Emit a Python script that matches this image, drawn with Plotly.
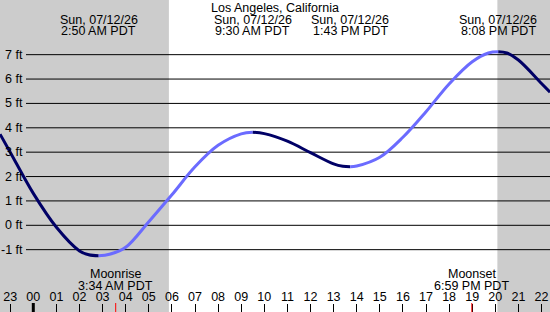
import plotly.graph_objects as go

# ---- data (hours relative to midnight of 07/12/26) ----
tide_hours = [-1.44, -1, 0, 1, 2, 2.4, 2.83, 3.3, 4, 5, 6, 7, 8, 9, 9.5, 10, 11, 12,
              13, 13.4, 13.72, 14, 15, 16, 17, 18, 19, 19.7, 20.13, 20.5, 21, 22, 22.37]
tide_ft = [3.74, 3.0, 1.31, -0.08, -1.05, -1.21, -1.25, -1.19, -0.90, 0.15, 1.25, 2.40, 3.28,
           3.75, 3.82, 3.76, 3.45, 2.98, 2.52, 2.42, 2.40, 2.43, 2.79, 3.61, 4.66,
           5.80, 6.71, 7.07, 7.12, 7.07, 6.78, 5.82, 5.46]
extreme_hours = [2.83, 9.5, 13.72, 20.13]
extreme_dates = ["Sun, 07/12/26"] * 4
extreme_times = ["2:50 AM PDT", "9:30 AM PDT", "1:43 PM PDT", "8:08 PM PDT"]
sunrise_h = 5.87
sunset_h = 20.09
moon_hours = [3.567, 18.983]
moon_events = ["Moonrise", "Moonset"]
moon_times = ["3:34 AM PDT", "6:59 PM PDT"]
y_ticks = [-1, 0, 1, 2, 3, 4, 5, 6, 7]
y_ticktext = ["-1 ft", "0 ft", "1 ft", "2 ft", "3 ft", "4 ft", "5 ft", "6 ft", "7 ft"]
x_ticks = list(range(-1, 23))
x_ticktext = ["%02d" % (h % 24) for h in x_ticks]
title = "Los Angeles, California"

X_RANGE = [-1.4416, 22.368]
Y_RANGE = [-3.557, 9.243]
DARK = "#000066"
LIGHT = "#6b6bff"
FONT = "Liberation Sans, Arial, sans-serif"
FS = 12.5
H = 312.0

fig = go.Figure()

# segments split at extremes
bounds = [tide_hours[0]] + extreme_hours + [tide_hours[-1]]
for a, b in zip(bounds[:-1], bounds[1:]):
    xs = [t for t in tide_hours if a <= t <= b]
    ys = [v for t, v in zip(tide_hours, tide_ft) if a <= t <= b]
    color = LIGHT if ys[-1] > ys[0] else DARK
    fig.add_trace(go.Scatter(x=xs, y=ys, mode="lines",
                             line=dict(color=color, width=3, shape="spline"),
                             hoverinfo="skip", showlegend=False))

shapes = []
# night shading
for x0, x1 in [(X_RANGE[0], sunrise_h), (sunset_h, X_RANGE[1])]:
    shapes.append(dict(type="rect", xref="x", yref="paper", x0=x0, x1=x1, y0=0, y1=1,
                       fillcolor="#cccccc", line=dict(width=0), layer="below"))
# gridlines
for v in y_ticks:
    shapes.append(dict(type="line", xref="paper", yref="y", x0=26 / 550, x1=1, y0=v, y1=v,
                       line=dict(color="black", width=1), layer="below"))
# midnight heavy tick
shapes.append(dict(type="line", xref="x", yref="paper", x0=0, x1=0, y0=0, y1=9 / H,
                   line=dict(color="black", width=3)))
# moon ticks
for m in moon_hours:
    shapes.append(dict(type="line", xref="x", yref="paper", x0=m, x1=m, y0=0, y1=9 / H,
                       line=dict(color="red", width=1)))

def txt(text, x, y_px, xref="x", xanchor="center"):
    return dict(text=text, xref=xref, yref="paper", x=x, y=1 - y_px / H,
                xanchor=xanchor, yanchor="middle", showarrow=False, borderpad=0,
                font=dict(size=FS, color="black", family=FONT))

annotations = [txt(title, 0.5, 8, xref="paper")]
for h, d, t in zip(extreme_hours, extreme_dates, extreme_times):
    annotations.append(txt(d, h, 20))
    annotations.append(txt(t, h, 31.5))
for h, e, t in zip(moon_hours, moon_events, moon_times):
    annotations.append(txt(e, h, 274))
    annotations.append(txt(t, h, 285.5))
for v, t in zip(y_ticks, y_ticktext):
    annotations.append(dict(text=t, xref="paper", yref="y", x=25 / 550, y=v,
                            xanchor="right", yanchor="middle", showarrow=False,
                            font=dict(size=FS, color="black", family=FONT)))

fig.update_layout(
    width=550, height=312, margin=dict(l=0, r=0, t=0, b=0),
    paper_bgcolor="white", plot_bgcolor="white",
    shapes=shapes, annotations=annotations,
    xaxis=dict(range=X_RANGE, showgrid=False, zeroline=False, showline=False,
               tickvals=x_ticks, ticktext=x_ticktext, ticks="inside", ticklen=8,
               tickcolor="black", tickwidth=1, ticklabelposition="inside",
               tickfont=dict(size=FS, color="black", family=FONT), fixedrange=True),
    yaxis=dict(range=Y_RANGE, showgrid=False, zeroline=False, showline=False,
               showticklabels=False, fixedrange=True),
    hovermode=False,
)

fig.write_html("out.html", config={"displayModeBar": False})
